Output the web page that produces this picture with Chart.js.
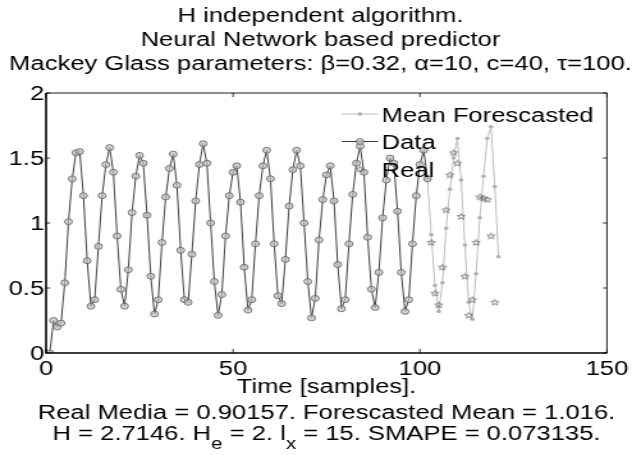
<!DOCTYPE html>
<html>
<head>
<meta charset="utf-8">
<script src="https://cdn.jsdelivr.net/npm/chart.js@4.4.1/dist/chart.umd.min.js"></script>
<style>
    html, body { margin: 0; padding: 0; background: #fff; }
    #wrap { width: 501px; height: 455px; transform: scaleX(1.2794); transform-origin: 0 0; }
    canvas { display: block; }
</style>
</head>
<body>
<div id="wrap"><canvas id="mgChart" width="501" height="455"></canvas></div>
<script>
// values
const dataStart = 1;
const dataValues = [
    0.00, 0.25, 0.20, 0.23, 0.54, 1.01, 1.34, 1.54, 1.55, 1.21,
    0.71, 0.36, 0.41, 0.82, 1.21, 1.45, 1.58, 1.39, 0.90, 0.49,
    0.36, 0.64, 1.08, 1.36, 1.52, 1.46, 1.06, 0.59, 0.30, 0.41,
    0.85, 1.20, 1.42, 1.53, 1.29, 0.79, 0.41, 0.39, 0.76, 1.17,
    1.45, 1.61, 1.46, 1.00, 0.55, 0.29, 0.45, 0.90, 1.21, 1.39,
    1.44, 1.16, 0.66, 0.33, 0.41, 0.84, 1.21, 1.44, 1.56, 1.34,
    0.84, 0.44, 0.38, 0.72, 1.13, 1.41, 1.56, 1.44, 1.00, 0.55,
    0.27, 0.42, 0.87, 1.18, 1.37, 1.44, 1.17, 0.68, 0.34, 0.41,
    0.84, 1.22, 1.46, 1.59, 1.39, 0.89, 0.49, 0.35, 0.62, 1.04,
    1.33, 1.50, 1.46, 1.09, 0.62, 0.32, 0.41, 0.84, 1.21, 1.45,
    1.56, 1.34
];
const forecastStart = 102;
const forecastValues = [
    1.34, 0.91, 0.52, 0.32, 0.54, 0.96, 1.26, 1.50, 1.65, 1.33,
    0.83, 0.39, 0.26, 0.61, 1.04, 1.36, 1.65, 1.74, 1.28, 0.74
];
const realStart = 103;
const realValues = [
    0.85, 0.46, 0.37, 0.66, 1.10, 1.37, 1.54, 1.46, 1.05, 0.59,
    0.29, 0.41, 0.85, 1.20, 1.19, 1.18, 0.90, 0.39
];
const xTicks = [0, 50, 100, 150];
const xTickLabels = ['0', '50', '100', '150'];
const yTicks = [0, 0.5, 1, 1.5, 2];
const yTickLabels = ['0', '0.5', '1', '1.5', '2'];

const titleLines = [
    'H independent algorithm.',
    'Neural Network based predictor',
    'Mackey Glass parameters: \u03b2=0.32, \u03b1=10, c=40, \u03c4=100.'
];
const xLabelLine = 'Time [samples].';
const statsLine = 'Real Media = 0.90157. Forescasted Mean = 1.016.';
const infoParts = [['H = 2.7146. H', 0], ['e', 1], [' = 2. l', 0], ['x', 1], [' = 15. SMAPE = 0.073135.', 0]];
const legendLabels = ['Mean Forescasted', 'Data', 'Real'];

const FONT_FAMILY = '"Liberation Sans", Arial, Helvetica, sans-serif';
const DATA_COLOR = '#404040';
const CIRCLE_FILL = 'rgba(190,190,190,0.7)';
const CIRCLE_EDGE = '#606060';
const FORECAST_COLOR = '#bdbdbd';
const FORECAST_DOT = '#b0b0b0';

function toPoints(start, values) {
    return values.map((v, i) => ({ x: start + i, y: v }));
}

function makeStar() {
    const c = document.createElement('canvas');
    c.width = 9;
    c.height = 9;
    const g = c.getContext('2d');
    g.strokeStyle = '#555';
    g.lineWidth = 0.7;
    g.beginPath();
    for (let i = 0; i < 10; i++) {
        const r = i % 2 === 0 ? 3.2 : 1.35;
        const ang = -Math.PI / 2 + i * Math.PI / 5;
        const px = 4.5 + r * Math.cos(ang);
        const py = 4.7 + r * Math.sin(ang);
        if (i === 0) g.moveTo(px, py); else g.lineTo(px, py);
    }
    g.closePath();
    g.stroke();
    return c;
}
const starImg = makeStar();

function drawLegend(g) {
    const lx0 = 267, lx1 = 295.5, mx = 281.3, tx = 298.3;
    const rows = [114, 141.5, 169];
    g.font = '20px ' + FONT_FAMILY;
    g.textAlign = 'left';
    g.textBaseline = 'alphabetic';
    rows.forEach((ry, i) => {
        if (i === 0) {
            g.strokeStyle = FORECAST_COLOR; g.lineWidth = 1;
            g.beginPath(); g.moveTo(lx0, ry); g.lineTo(lx1, ry); g.stroke();
            g.fillStyle = FORECAST_DOT;
            g.beginPath(); g.arc(mx, ry, 1.8, 0, Math.PI * 2); g.fill();
        } else if (i === 1) {
            g.strokeStyle = DATA_COLOR; g.lineWidth = 1;
            g.beginPath(); g.moveTo(lx0, ry); g.lineTo(lx1, ry); g.stroke();
            g.fillStyle = CIRCLE_FILL; g.strokeStyle = CIRCLE_EDGE; g.lineWidth = 0.8;
            g.beginPath(); g.arc(mx, ry, 3, 0, Math.PI * 2); g.fill(); g.stroke();
        } else {
            g.drawImage(starImg, mx - starImg.width / 2, ry - starImg.height / 2);
        }
        g.fillStyle = '#000';
        g.fillText(legendLabels[i], tx, ry + 7.8);
    });
}

const framePlugin = {
    id: 'matlabFrame',
    afterDraw(chart) {
        const g = chart.ctx;
        const area = chart.chartArea;
        const xs = chart.scales.x;
        const ys = chart.scales.y;
        const L = area.left, R = area.right, T = area.top, B = area.bottom;
        g.save();
        g.setLineDash([]);
        g.globalAlpha = 1;

        // box, left and bottom a bit heavier as in the reference
        g.strokeStyle = '#000';
        g.lineWidth = 1.6;
        g.beginPath();
        g.moveTo(L, T);
        g.lineTo(L, B);
        g.lineTo(R, B);
        g.stroke();
        g.lineWidth = 0.9;
        g.beginPath();
        g.moveTo(L, T);
        g.lineTo(R, T);
        g.lineTo(R, B);
        g.stroke();

        // inner ticks
        g.lineWidth = 0.8;
        g.beginPath();
        xTicks.forEach((v) => {
            const px = xs.getPixelForValue(v);
            g.moveTo(px, B); g.lineTo(px, B - 4);
            g.moveTo(px, T); g.lineTo(px, T + 4);
        });
        yTicks.forEach((v) => {
            const py = ys.getPixelForValue(v);
            g.moveTo(L, py); g.lineTo(L + 3.2, py);
            g.moveTo(R, py); g.lineTo(R - 3.2, py);
        });
        g.stroke();

        // tick labels
        g.fillStyle = '#000';
        g.font = '20px ' + FONT_FAMILY;
        g.textBaseline = 'alphabetic';
        g.textAlign = 'center';
        xTicks.forEach((v, i) => g.fillText(xTickLabels[i], xs.getPixelForValue(v), 374.5));
        g.textAlign = 'right';
        yTicks.forEach((v, i) => g.fillText(yTickLabels[i], L - 1.5, ys.getPixelForValue(v) + 7));

        drawLegend(g);

        // titles
        g.textAlign = 'center';
        const tcx = chart.width / 2;
        titleLines.forEach((t, i) => g.fillText(t, tcx, 21.5 + i * 24));

        // x label block
        const bcx = (L + R) / 2;
        g.fillText(xLabelLine, bcx, 392.5);
        g.fillText(statsLine, bcx, 418.5);

        const mainFont = '20px ' + FONT_FAMILY;
        const subFont = '16px ' + FONT_FAMILY;
        let total = 0;
        infoParts.forEach(([txt, sub]) => {
            g.font = sub ? subFont : mainFont;
            total += g.measureText(txt).width;
        });
        let x = bcx - total / 2;
        g.textAlign = 'left';
        infoParts.forEach(([txt, sub]) => {
            g.font = sub ? subFont : mainFont;
            g.fillText(txt, x, sub ? 449 : 440);
            x += g.measureText(txt).width;
        });
        g.restore();
    }
};

const chart = new Chart(document.getElementById('mgChart'), {
    type: 'line',
    data: {
        datasets: [
            {
                label: 'Data',
                data: toPoints(dataStart, dataValues),
                borderColor: DATA_COLOR,
                borderWidth: 1,
                pointStyle: 'circle',
                pointRadius: 3,
                pointBackgroundColor: CIRCLE_FILL,
                pointBorderColor: CIRCLE_EDGE,
                pointBorderWidth: 0.8,
                tension: 0,
                order: 1
            },
            {
                label: 'Mean Forescasted',
                data: toPoints(forecastStart, forecastValues),
                borderColor: FORECAST_COLOR,
                borderWidth: 1,
                pointRadius: 1.8,
                pointBackgroundColor: FORECAST_DOT,
                pointBorderWidth: 0,
                tension: 0,
                order: 2
            },
            {
                label: 'Real',
                data: toPoints(realStart, realValues),
                showLine: false,
                pointStyle: starImg,
                pointRadius: 3,
                order: 0
            }
        ]
    },
    options: {
        responsive: false,
        animation: false,
        devicePixelRatio: 1,
        events: [],
        layout: { padding: { left: 36, right: 26.6, top: 93, bottom: 102 } },
        plugins: {
            legend: { display: false },
            title: { display: false },
            tooltip: { enabled: false }
        },
        scales: {
            x: {
                type: 'linear',
                display: false,
                min: 0,
                max: 150,
                afterBuildTicks: (scale) => { scale.ticks = xTicks.map((v) => ({ value: v })); }
            },
            y: {
                type: 'linear',
                display: false,
                min: 0,
                max: 2,
                afterBuildTicks: (scale) => { scale.ticks = yTicks.map((v) => ({ value: v })); }
            }
        }
    },
    plugins: [framePlugin]
});
</script>
</body>
</html>
